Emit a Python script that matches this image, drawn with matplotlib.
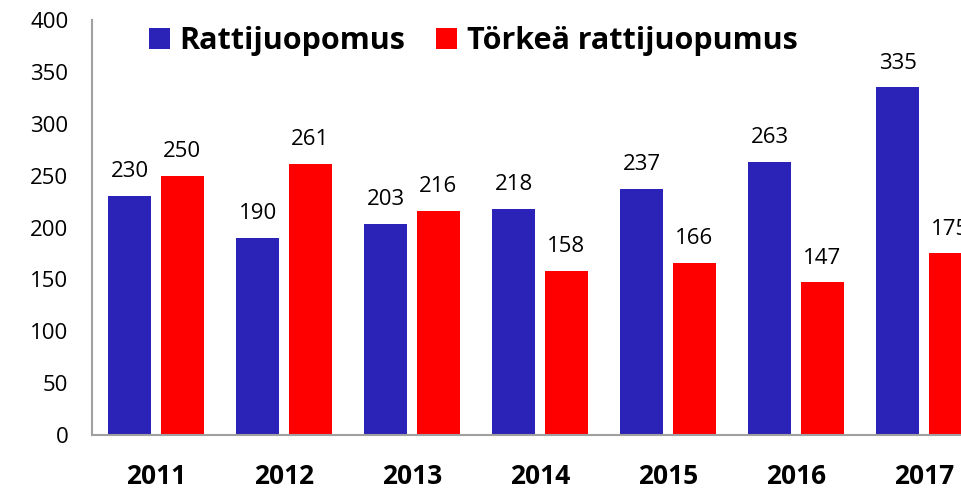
import matplotlib
matplotlib.use("Agg")
import matplotlib.pyplot as plt
import numpy as np

plt.rcParams['font.family'] = ['Open Sans', 'DejaVu Sans']

years = ['2011', '2012', '2013', '2014', '2015', '2016', '2017']
rattijuopumus = [230, 190, 203, 218, 237, 263, 335]
torkea = [250, 261, 216, 158, 166, 147, 175]

blue = '#2B22B8'
red = '#FF0000'

fig = plt.figure(figsize=(9.61, 4.91), dpi=100)
# axes runs past the right edge, like the clipped original
ax = fig.add_axes([92 / 961, 56 / 491, 896 / 961, 415 / 491])

x = np.arange(len(years))
w = 0.336
off = 0.205
b1 = ax.bar(x - off, rattijuopumus, w, color=blue, label='Rattijuopomus')
b2 = ax.bar(x + off, torkea, w, color=red, label='Törkeä rattijuopumus')

for bars in (b1, b2):
    for rect in bars:
        h = rect.get_height()
        ax.annotate(str(int(h)), (rect.get_x() + rect.get_width() / 2, h),
                    xytext=(0, 10), textcoords='offset points',
                    ha='center', va='bottom', fontsize=16)

ax.set_xlim(-0.5, len(years) - 0.5)
ax.set_ylim(0, 400)
ax.set_yticks(range(0, 401, 50))
ax.set_xticks(x)
ax.set_xticklabels(years, fontsize=19, fontweight='bold')
ax.tick_params(axis='y', labelsize=16, length=0, pad=17)
ax.tick_params(axis='x', length=0, pad=20)

for s in ('top', 'right'):
    ax.spines[s].set_visible(False)
ax.spines['left'].set_color('#A0A0A0')
ax.spines['bottom'].set_color('#A0A0A0')
ax.spines['left'].set_linewidth(1.5)
ax.spines['bottom'].set_linewidth(1.5)

leg = ax.legend(loc='upper left', bbox_to_anchor=(0.05, 1.015), ncol=2,
                frameon=False, prop={'weight': 'bold', 'size': 22},
                handlelength=0.7, handleheight=0.7, handletextpad=0.3,
                columnspacing=1.0, borderaxespad=0)

fig.savefig('out.png', dpi=100)
